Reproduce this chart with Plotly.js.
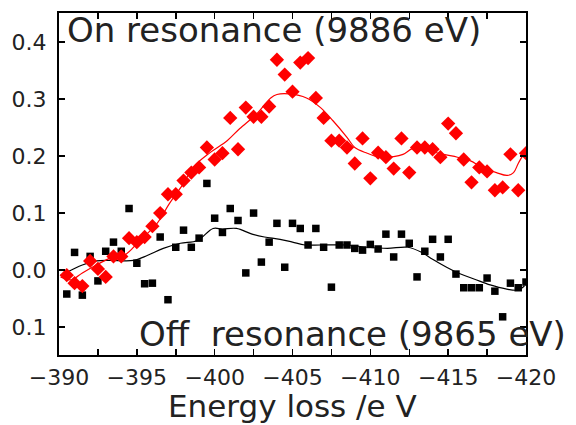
<!DOCTYPE html>
<html>
<head>
<meta charset="utf-8">
<script src="https://cdn.plot.ly/plotly-3.0.1.min.js"></script>
<style>html,body{margin:0;padding:0;background:#fff;}#chart{width:576px;height:425px;}</style>
</head>
<body>
<div id="chart"></div>
<script>
// Energy loss grid (eV) shared by both measured series
const energy = [-390.5,-391,-391.5,-392,-392.5,-393,-393.5,-394,-394.5,-395,
  -395.5,-396,-396.5,-397,-397.5,-398,-398.5,-399,-399.5,-400,
  -400.5,-401,-401.5,-402,-402.5,-403,-403.5,-404,-404.5,-405,
  -405.5,-406,-406.5,-407,-407.5,-408,-408.5,-409,-409.5,-410,
  -410.5,-411,-411.5,-412,-412.5,-413,-413.5,-414,-414.5,-415,
  -415.5,-416,-416.5,-417,-417.5,-418,-418.5,-419,-419.5,-420];

// On resonance (9886 eV) data, red
const onRes = [-0.009,-0.023,-0.028,0.016,0.002,-0.012,0.024,0.024,0.056,0.049,
  0.058,0.077,0.100,0.133,0.133,0.157,0.171,0.180,0.215,0.194,
  0.205,0.267,0.212,0.285,0.269,0.269,0.287,0.369,0.343,0.313,
  0.364,0.372,0.302,0.267,0.227,0.227,0.215,0.187,0.231,0.161,
  0.206,0.198,0.178,0.231,0.171,0.215,0.215,0.212,0.198,0.257,
  0.240,0.194,0.154,0.180,0.173,0.140,0.145,0.203,0.140,0.205];

// Off resonance (9865 eV) data, black
const offRes = [-0.042,0.031,-0.044,0.024,-0.019,0.033,0.049,0.033,0.108,0.012,
  -0.024,-0.023,0.058,-0.052,0.040,0.070,0.040,0.056,0.152,0.091,
  0.066,0.108,0.087,-0.005,0.100,0.014,0.049,0.082,0.005,0.082,
  0.073,0.044,0.073,0.040,-0.030,0.044,0.044,0.038,0.035,0.045,
  0.037,0.063,0.023,0.063,0.047,-0.012,0.033,0.054,0.023,0.054,
  -0.007,-0.031,-0.031,-0.031,-0.014,-0.037,-0.082,-0.023,-0.031,-0.021];

// Smoothed curve through on-resonance data
const onFitE = [-390.1,-390.8,-391.5,-392.4,-393.3,-394.2,-395.2,-396.3,-397.1,-398.0,
  -398.6,-399.7,-400.8,-401.6,-402.7,-403.6,-404.0,-404.8,-405.9,-406.8,
  -407.6,-408.5,-409.0,-409.8,-410.6,-411.5,-412.1,-412.7,-413.4,-414.0,
  -414.7,-415.6,-416.4,-417.2,-418.1,-418.8,-419.2,-419.5,-419.9];
const onFitY = [-0.012,-0.017,-0.005,0.009,0.021,0.026,0.052,0.082,0.117,0.152,
  0.180,0.206,0.227,0.248,0.274,0.302,0.308,0.309,0.302,0.285,
  0.262,0.233,0.215,0.205,0.198,0.199,0.203,0.213,0.215,0.208,
  0.203,0.198,0.192,0.180,0.171,0.166,0.171,0.187,0.206];

// Smoothed curve through off-resonance data
const offFitE = [-390.1,-390.8,-391.5,-392.4,-393.3,-394.8,-395.7,-396.7,-397.8,-398.9,
  -399.9,-400.5,-401.4,-402.4,-403.2,-404.2,-405.0,-405.8,-406.8,-408.5,
  -409.8,-411.1,-412.4,-413.3,-414.0,-414.9,-415.8,-416.7,-417.7,-418.7,
  -419.5,-419.9];
const offFitY = [-0.009,0.000,0.009,0.016,0.017,0.017,0.026,0.038,0.047,0.052,
  0.073,0.072,0.073,0.063,0.058,0.054,0.049,0.044,0.044,0.044,
  0.040,0.038,0.040,0.031,0.019,0.005,-0.007,-0.016,-0.026,-0.033,
  -0.035,-0.028];

const yTickVals = [-0.1,0,0.1,0.2,0.3,0.4];
const yTickText = ['0.1','0.0','0.1','0.2','0.3','0.4'];
const xTickVals = [-390,-395,-400,-405,-410,-415,-420];

const onLabel = 'On resonance (9886 eV)';
const offLabel = 'Off\u00a0 resonance (9865 eV)';
const xTitle = 'Energy loss /e V';

const traces = [
  {x: offFitE, y: offFitY, mode: 'lines', line: {color: '#000', width: 1.2, shape: 'spline'}, hoverinfo: 'skip'},
  {x: energy, y: offRes, mode: 'markers', marker: {symbol: 'square', size: 7.5, color: '#000'}},
  {x: onFitE, y: onFitY, mode: 'lines', line: {color: '#ff0000', width: 1.2, shape: 'spline'}, hoverinfo: 'skip'},
  {x: energy, y: onRes, mode: 'markers', marker: {symbol: 'diamond', size: 11, color: '#ff0000'}}
];

const font = 'DejaVu Sans, Arial, sans-serif';
const layout = {
  width: 576, height: 425,
  margin: {l: 59, r: 50, t: 13, b: 70},
  paper_bgcolor: '#fff', plot_bgcolor: '#fff',
  showlegend: false,
  font: {family: font, color: '#222'},
  xaxis: {
    range: [-390, -420],
    tickvals: xTickVals,
    ticks: 'inside', ticklen: 6, tickwidth: 1.5, tickcolor: '#000',
    minor: {dtick: 2.5, ticks: 'inside', ticklen: 6, tickwidth: 1.5, tickcolor: '#000'},
    showline: true, linecolor: '#000', linewidth: 2, mirror: 'allticks',
    showgrid: false, zeroline: false,
    tickfont: {family: font, size: 22, color: '#222'},
    ticklabelstandoff: 2
  },
  yaxis: {
    range: [-0.149, 0.451],
    tickvals: yTickVals, ticktext: yTickText,
    ticks: 'inside', ticklen: 6, tickwidth: 1.5, tickcolor: '#000',
    showline: true, linecolor: '#000', linewidth: 2, mirror: 'allticks',
    showgrid: false, zeroline: false,
    tickfont: {family: font, size: 22, color: '#222'},
    ticklabelstandoff: 6
  },
  annotations: [
    {text: onLabel, xref: 'paper', yref: 'paper', x: 0.013, y: 0.95, xanchor: 'left', yanchor: 'middle',
     showarrow: false, font: {family: font, size: 34, color: '#222'}},
    {text: offLabel, xref: 'paper', yref: 'paper', x: 0.167, y: 0.06, xanchor: 'left', yanchor: 'middle',
     showarrow: false, font: {family: font, size: 34, color: '#222'}},
    {text: xTitle, xref: 'paper', yref: 'paper', x: 0.5, y: -0.204, xanchor: 'center', yanchor: 'bottom',
     showarrow: false, borderpad: 0, font: {family: font, size: 31, color: '#222'}}
  ]
};

Plotly.newPlot('chart', traces, layout, {displayModeBar: false, staticPlot: true});
</script>
</body>
</html>
